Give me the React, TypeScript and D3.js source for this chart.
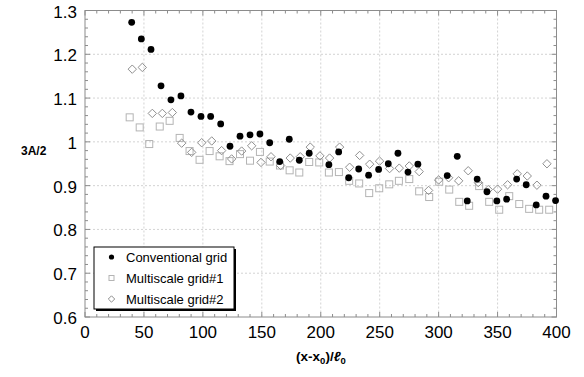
import React from "react";
import * as d3 from "d3";

const convX = [39.6, 47.8, 56, 64.5, 72.9, 81.4, 89.9, 98.4, 106.6, 115.1, 123, 131.5, 140, 148.4, 156.7, 165.2, 173.3, 181.8, 190.2, 206.9, 215.2, 223.7, 232.2, 240.6, 249.1, 257.3, 265.5, 274, 282.4, 307.3, 315.8, 324.3, 332.7, 341, 349.4, 357.7, 366.2, 374.3, 382.8, 391.1, 399.2];
const convY = [1.273, 1.235, 1.211, 1.128, 1.096, 1.105, 1.068, 1.058, 1.058, 1.041, 0.99, 1.013, 1.016, 1.018, 0.998, 0.955, 1.006, 0.958, 0.974, 0.948, 0.977, 0.918, 0.938, 0.924, 0.937, 0.95, 0.974, 0.931, 0.949, 0.923, 0.967, 0.865, 0.915, 0.886, 0.865, 0.869, 0.915, 0.902, 0.856, 0.876, 0.866];

const ms1X = [37.9, 46.4, 54.5, 63.4, 71.8, 80.3, 88.7, 97.2, 105.7, 114.2, 122.6, 131.5, 140, 148.4, 156.7, 165.4, 173.6, 181.8, 190.2, 198.7, 206.9, 215.4, 224.1, 232.6, 241.1, 249.6, 258.1, 266.3, 275.1, 283.5, 292, 300.5, 309, 317.5, 325.9, 334.4, 342.9, 351.4, 359.9, 368.4, 376.8, 385.3, 393.8];
const ms1Y = [1.056, 1.033, 0.995, 1.035, 1.048, 1.009, 0.979, 0.959, 0.979, 0.967, 0.956, 0.972, 0.957, 0.977, 0.955, 0.946, 0.935, 0.93, 0.954, 0.953, 0.93, 0.931, 0.911, 0.905, 0.883, 0.894, 0.903, 0.911, 0.915, 0.887, 0.874, 0.909, 0.891, 0.863, 0.854, 0.899, 0.863, 0.845, 0.876, 0.858, 0.847, 0.845, 0.845];

const ms2X = [40.1, 48.6, 57.1, 65.6, 74.1, 82, 90.5, 99, 107.5, 115.9, 124.4, 132.9, 141.4, 149.3, 157.8, 166, 174.1, 182.6, 191.1, 199.3, 207.5, 216, 224.5, 233, 241.5, 249.9, 258.4, 266.6, 275.1, 283.5, 291.5, 300, 308.5, 317, 325.1, 333.6, 342.1, 350, 358.5, 366.7, 375.2, 383.4, 391.9];
const ms2Y = [1.166, 1.17, 1.065, 1.065, 1.067, 0.997, 0.976, 0.998, 1.002, 0.98, 0.961, 0.979, 0.991, 0.953, 0.966, 0.946, 0.963, 0.966, 0.988, 0.968, 0.963, 0.988, 0.942, 0.969, 0.949, 0.956, 0.939, 0.94, 0.945, 0.932, 0.889, 0.913, 0.918, 0.911, 0.934, 0.907, 0.891, 0.892, 0.902, 0.927, 0.922, 0.901, 0.95];

const xTicks = [0, 50, 100, 150, 200, 250, 300, 350, 400];
const yTicks = [0.6, 0.7, 0.8, 0.9, 1, 1.1, 1.2, 1.3];
const legendLabels = ["Conventional grid", "Multiscale grid#1", "Multiscale grid#2"];

const W = 584, H = 377;
const L = 85, R = 556.5, T = 10.5, B = 317;
const FONT = "'Liberation Sans', Arial, Helvetica, sans-serif";

export default function App() {
  const x = d3.scaleLinear().domain([0, 400]).range([L, R]);
  const y = d3.scaleLinear().domain([0.6, 1.3]).range([B, T]);
  const xMinor = d3.range(0, 401, 10);
  const yMinor = d3.range(0, 36).map((i) => 0.6 + i * 0.02);
  const axisColor = "#8c8c8c";
  const gridColor = "#c8c8c8";

  const sq = (cx: number, cy: number, s: number) => (
    <rect x={cx - s / 2} y={cy - s / 2} width={s} height={s} fill="none" stroke="#b4b4b4" strokeWidth={1} />
  );
  const dia = (cx: number, cy: number, s: number) => (
    <path d={`M${cx},${cy - s} L${cx + s},${cy} L${cx},${cy + s} L${cx - s},${cy} Z`} fill="none" stroke="#8f8f8f" strokeWidth={1} />
  );

  return (
    <div style={{ position: "absolute", left: 0, top: 0 }}>
      <svg width={W} height={H} style={{ display: "block", background: "#fff" }} fontFamily={FONT}>
        {/* grid */}
        {xTicks.slice(1, -1).map((t) => (
          <line key={"gx" + t} x1={x(t)} x2={x(t)} y1={T} y2={B} stroke={gridColor} strokeWidth={0.8} strokeDasharray="2,2" />
        ))}
        {yTicks.slice(1, -1).map((t) => (
          <line key={"gy" + t} x1={L} x2={R} y1={y(t)} y2={y(t)} stroke={gridColor} strokeWidth={0.8} strokeDasharray="2,2" />
        ))}
        {/* ticks */}
        {xMinor.map((t) => {
          const maj = t % 50 === 0;
          const len = maj ? 5 : 3;
          return (
            <g key={"xm" + t}>
              <line x1={x(t)} x2={x(t)} y1={B} y2={B - len} stroke={axisColor} />
              <line x1={x(t)} x2={x(t)} y1={T} y2={T + len} stroke={axisColor} />
            </g>
          );
        })}
        {yMinor.map((t, i) => {
          const maj = i % 5 === 0;
          const len = maj ? 5 : 3;
          return (
            <g key={"ym" + i}>
              <line x1={L} x2={L + len} y1={y(t)} y2={y(t)} stroke={axisColor} />
              <line x1={R} x2={R - len} y1={y(t)} y2={y(t)} stroke={axisColor} />
            </g>
          );
        })}
        <rect x={L} y={T} width={R - L} height={B - T} fill="none" stroke={axisColor} strokeWidth={1} />
        {/* tick labels */}
        {xTicks.map((t) => (
          <text key={"xl" + t} x={x(t)} y={338} fontSize={17} textAnchor="middle" fill="#000">{t}</text>
        ))}
        {yTicks.map((t) => (
          <text key={"yl" + t} x={77} y={y(t) + 7} fontSize={17} textAnchor="end" fill="#000">{d3.format("")(t)}</text>
        ))}
        {/* titles */}
        <text x={21} y={155} fontSize={12} fontWeight="bold">3A/2</text>
        <text x={321} y={361} fontSize={13.5} fontWeight="bold" textAnchor="middle">
          (x-x<tspan fontSize={9.5} dy={3}>0</tspan><tspan dy={-3}>)/</tspan><tspan fontStyle="italic">ℓ</tspan><tspan fontSize={9.5} dy={3}>0</tspan>
        </text>
        {/* data */}
        {ms1X.map((v, i) => <g key={"s" + i}>{sq(x(v), y(ms1Y[i]), 7)}</g>)}
        {ms2X.map((v, i) => <g key={"d" + i}>{dia(x(v), y(ms2Y[i]), 4.2)}</g>)}
        {convX.map((v, i) => <circle key={"c" + i} cx={x(v)} cy={y(convY[i])} r={3.4} fill="#000" />)}
        {/* legend */}
        <rect x={96} y={249} width={140} height={62} fill="#000" />
        <rect x={94} y={247} width={140} height={62} fill="#fff" stroke="#000" strokeWidth={1} />
        <circle cx={111.5} cy={257} r={2.6} fill="#000" />
        {sq(111.5, 278, 5)}
        {dia(111.5, 299, 3.2)}
        {legendLabels.map((s, i) => (
          <text key={"lg" + i} x={126} y={261.5 + i * 21} fontSize={13} fill="#000">{s}</text>
        ))}
      </svg>
    </div>
  );
}
